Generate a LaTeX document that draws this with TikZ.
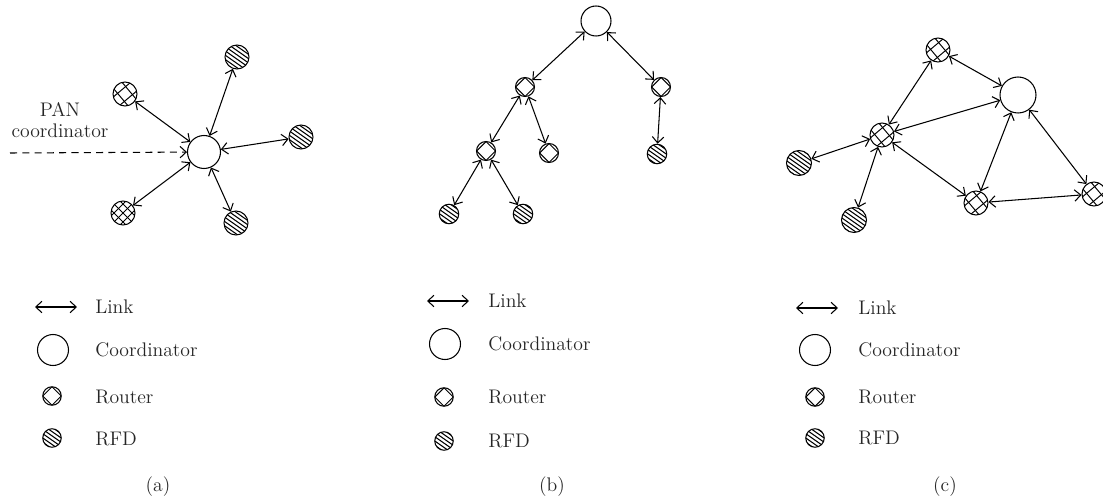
\documentclass[tikz,border=0pt]{standalone}
\usetikzlibrary{arrows.meta}
\begin{document}
\begin{tikzpicture}[x=0.02cm,y=-0.02cm,
  lnk/.style={line width=0.6pt,{Straight Barb[length=3.5pt,width=6.5pt]}-{Straight Barb[length=3.5pt,width=6.5pt]}},
  panarrow/.style={line width=0.6pt,dash pattern=on 4pt off 3pt,-{Straight Barb[length=3.5pt,width=6.5pt]}},
  coordn/.style={circle,draw,line width=0.6pt,inner sep=0pt,minimum size=#1},
  rfd/.style={circle,draw,line width=0.6pt,inner sep=0pt,minimum size=#1,
    path picture={\begin{scope}[shift={(path picture bounding box.center)}]
      \foreach \k in {-4.5,-3.5,...,4.5}{\draw[line width=0.6pt]
        ({(1.147*\k-9.83)*1pt},{(1.638*\k+6.88)*1pt}) -- ({(1.147*\k+9.83)*1pt},{(1.638*\k-6.88)*1pt});}
    \end{scope}}},
  hrouter/.style={circle,draw,line width=0.6pt,inner sep=0pt,minimum size=#1,
    path picture={\begin{scope}[shift={(path picture bounding box.center)}]
      \foreach \k in {-3,3}{
        \draw[line width=0.55pt] ({(-0.643*\k-9.19)*1pt},{(0.766*\k-7.71)*1pt}) -- ({(-0.643*\k+9.19)*1pt},{(0.766*\k+7.71)*1pt});
        \draw[line width=0.55pt] ({(0.766*\k-7.71)*1pt},{(0.643*\k+9.19)*1pt}) -- ({(0.766*\k+7.71)*1pt},{(0.643*\k-9.19)*1pt});}
    \end{scope}}},
  grouter/.style={circle,draw,line width=0.6pt,inner sep=0pt,minimum size=#1,
    path picture={\begin{scope}[shift={(path picture bounding box.center)}]
      \foreach \k in {-3.6,0,3.6}{
        \draw[line width=0.55pt] ({(-0.707*\k-8.49)*1pt},{(0.707*\k-8.49)*1pt}) -- ({(-0.707*\k+8.49)*1pt},{(0.707*\k+8.49)*1pt});
        \draw[line width=0.55pt] ({(0.707*\k-8.49)*1pt},{(0.707*\k+8.49)*1pt}) -- ({(0.707*\k+8.49)*1pt},{(0.707*\k-8.49)*1pt});}
    \end{scope}}},
  drouter/.style={circle,draw,line width=0.6pt,inner sep=0pt,minimum size=#1,
    path picture={\draw[line width=0.6pt] (path picture bounding box.north) -- (path picture bounding box.east)
      -- (path picture bounding box.south) -- (path picture bounding box.west) -- cycle;}},
  lbl/.style={font=\fontsize{11.2}{12}\selectfont,inner sep=0pt,text=black!85},
]
\useasboundingbox (0,0) rectangle (1103,500);

% ---------- (a) star ----------
\node[coordn=0.66cm] (ac) at (204,152) {};
\node[hrouter=0.48cm] (ar1) at (125,94) {};
\node[rfd=0.48cm] (af1) at (237,57) {};
\node[rfd=0.48cm] (af2) at (301,137) {};
\node[grouter=0.48cm] (ar2) at (123,213) {};
\node[rfd=0.48cm] (af3) at (236,223) {};
\coordinate (pan) at (10,153);
\node[lbl,align=center] (pant) at (60,120) {PAN\\coordinator};
\foreach \n in {ar1,af1,af2,ar2,af3} \draw[lnk] (ac) -- (\n);
\draw[panarrow] (pan) -- (ac);

% ---------- (b) tree ----------
\node[coordn=0.6cm] (bc) at (596,21) {};
\node[drouter=0.38cm] (br1) at (525,87) {};
\node[drouter=0.38cm] (br2) at (661,87) {};
\node[drouter=0.38cm] (br3) at (486,151) {};
\node[drouter=0.38cm] (br4) at (549,153) {};
\node[rfd=0.39cm] (bf1) at (657,154) {};
\node[rfd=0.39cm] (bf2) at (449,214) {};
\node[rfd=0.39cm] (bf3) at (523,214) {};
\draw[lnk] (bc) -- (br1);
\draw[lnk] (bc) -- (br2);
\draw[lnk] (br1) -- (br3);
\draw[lnk] (br1) -- (br4);
\draw[lnk] (br2) -- (bf1);
\draw[lnk] (br3) -- (bf2);
\draw[lnk] (br3) -- (bf3);

% ---------- (c) mesh ----------
\node[coordn=0.72cm] (cc) at (1018,95) {};
\node[hrouter=0.48cm] (cr1) at (938,50) {};
\node[hrouter=0.48cm] (cr2) at (882,135) {};
\node[rfd=0.5cm] (cf1) at (799,163) {};
\node[rfd=0.5cm] (cf2) at (854,220) {};
\node[hrouter=0.48cm] (cr3) at (976,203) {};
\node[hrouter=0.48cm] (cr4) at (1094,194) {};
\draw[lnk] (cr1) -- (cc);
\draw[lnk] (cr1) -- (cr2);
\draw[lnk] (cr2) -- (cc);
\draw[lnk] (cr2) -- (cf1);
\draw[lnk] (cr2) -- (cf2);
\draw[lnk] (cr2) -- (cr3);
\draw[lnk] (cr3) -- (cc);
\draw[lnk] (cc) -- (cr4);
\draw[lnk] (cr3) -- (cr4);

% ---------- legends ----------
% (a)
\coordinate (la1) at (35,307); \coordinate (la2) at (77,307);
\draw[lnk] (la1) -- (la2);
\node[lbl,anchor=west] (lat1) at (95,307) {Link};
\node[coordn=0.62cm] (lac) at (53,350) {};
\node[lbl,anchor=west] (lat2) at (95,350) {Coordinator};
\node[drouter=0.37cm] (lar) at (52,396) {};
\node[lbl,anchor=west] (lat3) at (95,397) {Router};
\node[rfd=0.37cm] (laf) at (52,438) {};
\node[lbl,anchor=west] (lat4) at (95,439) {RFD};
\node[lbl] (capa) at (158,487) {(a)};
% (b)
\coordinate (lb1) at (427,301); \coordinate (lb2) at (469,301);
\draw[lnk] (lb1) -- (lb2);
\node[lbl,anchor=west] (lbt1) at (488,301) {Link};
\node[coordn=0.62cm] (lbc) at (445,344) {};
\node[lbl,anchor=west] (lbt2) at (488,344) {Coordinator};
\node[drouter=0.37cm] (lbr) at (444,397) {};
\node[lbl,anchor=west] (lbt3) at (488,397) {Router};
\node[rfd=0.37cm] (lbf) at (444,441) {};
\node[lbl,anchor=west] (lbt4) at (488,441) {RFD};
\node[lbl] (capb) at (552,487) {(b)};
% (c)
\coordinate (lc1) at (796,308); \coordinate (lc2) at (838,308);
\draw[lnk] (lc1) -- (lc2);
\node[lbl,anchor=west] (lct1) at (858,308) {Link};
\node[coordn=0.62cm] (lcc) at (815,350) {};
\node[lbl,anchor=west] (lct2) at (858,350) {Coordinator};
\node[drouter=0.37cm] (lcr) at (815,397) {};
\node[lbl,anchor=west] (lct3) at (858,397) {Router};
\node[rfd=0.37cm] (lcf) at (815,438) {};
\node[lbl,anchor=west] (lct4) at (858,438) {RFD};
\node[lbl] (capc) at (945,487) {(c)};
\end{tikzpicture}
\end{document}
